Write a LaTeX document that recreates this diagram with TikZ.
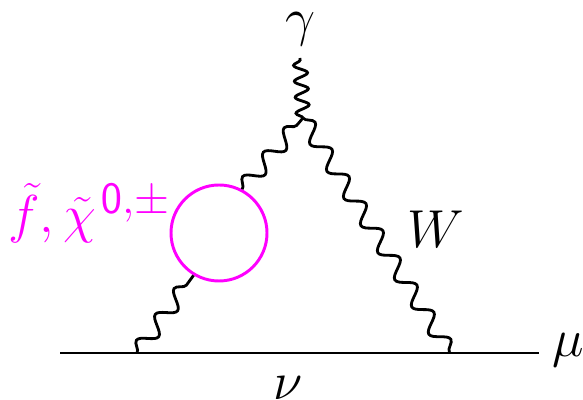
\documentclass[tikz,border=0pt]{standalone}
\usepackage{fix-cm}
\usepackage{amsmath}
\usepackage{amssymb}
\usetikzlibrary{decorations.pathmorphing}
\DeclareMathSizes{38}{38}{32}{24}
\definecolor{loopcol}{RGB}{255,0,255}
\tikzset{
    fermion/.style={line width=2.1pt},
    photon/.style={line width=2pt, decorate, decoration={snake, amplitude=0.2cm, segment length=0.8cm}},
    label/.style={font=\fontsize{38}{42}\selectfont, inner sep=0pt}
}
\begin{document}
\begin{tikzpicture}
    \useasboundingbox (0,0) rectangle (14.575,10);

    % vertices
    \coordinate (start) at (1.5,1.175);
    \coordinate (end) at (13.475,1.175);
    \coordinate (left) at (3.425,1.175);
    \coordinate (right) at (11.25,1.175);
    \coordinate (top) at (7.575,7.05);
    \coordinate (ext) at (7.5,8.55);

    % bubble
    \node[circle, draw=loopcol, line width=2.1pt, minimum size=2.4cm, inner sep=0pt] (blob) at (5.475,4.175) {};

    % lines
    \draw[fermion] (start) -- (end);
    \draw[photon] (left) -- (blob.239);
    \draw[photon] (blob.62) -- (top);
    \draw[photon] (top) -- (right);
    \draw[line width=2pt, decorate, decoration={snake, amplitude=0.17cm, segment length=0.4cm}] (top) -- (ext);

    % labels
    \node[label] (gamma) at (7.52,9.275) {$\gamma$};
    \node[label] (w) at (10.89,4.275) {$W$};
    \node[label] (mu) at (14.2,1.25) {$\mu$};
    \node[label] (nu) at (7.2,0.29) {$\nu$};
    \node[label, text=loopcol, anchor=base west] (sparticle) at (0.2,4.175) {$\tilde{f},\tilde{\chi}^{\mskip2mu\mathsf{0},\pm}$};
\end{tikzpicture}
\end{document}
